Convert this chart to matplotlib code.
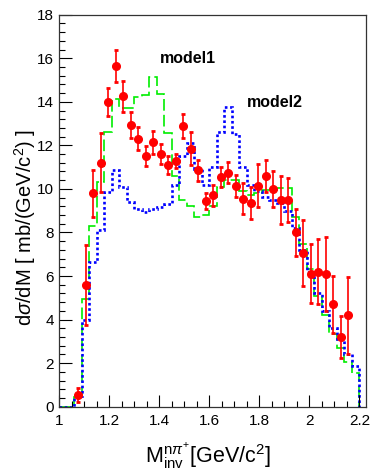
import numpy as np
import matplotlib
matplotlib.use("Agg")
import matplotlib.pyplot as plt

# invariant-mass bins, 0.03 GeV wide from 1.0 to 2.2
bin_edges = np.round(np.arange(1.0, 2.2001, 0.03), 3)

# measured dsigma/dM (red points), one per bin starting at 1.06
data_x = np.round(1.075 + 0.03 * np.arange(37), 3)
data_y = [0.55, 5.6, 9.8, 11.2, 14.0, 15.65, 14.25, 12.95, 12.3, 11.5,
          12.15, 11.6, 11.1, 11.3, 12.9, 11.85, 10.85, 9.45, 9.7, 10.55,
          10.75, 10.15, 9.55, 9.35, 10.15, 10.6, 10.0, 9.5, 9.5, 8.0,
          7.05, 6.1, 6.2, 6.1, 4.7, 3.2, 4.2]
data_err = [0.33, 1.83, 1.07, 1.35, 0.65, 0.73, 0.7, 0.6, 0.52, 0.47,
            0.53, 0.45, 0.4, 0.32, 0.55, 0.76, 0.5, 0.35, 0.5, 0.45,
            0.5, 0.5, 0.7, 0.72, 1.0, 0.75, 0.83, 1.1, 1.0, 1.1,
            1.5, 1.35, 1.5, 1.7, 1.3, 0.95, 1.76]

# model predictions, histogrammed in the same bins
model1 = [0, 0, 0.46, 4.95, 8.3, 10.3, 12.6, 14.15, 13.7, 13.7,
          14.2, 14.3, 15.15, 14.35, 12.55, 10.6, 9.5, 9.2, 8.7, 8.8,
          9.2, 10.1, 10.4, 10.4, 9.9, 9.7, 9.8, 9.95, 9.95, 10.05,
          10.05, 8.72, 7.45, 6.3, 5.1, 4.2, 3.35, 2.7, 2.05, 1.55]
model2 = [0, 0, 0.5, 4.0, 6.65, 8.1, 9.85, 10.85, 10.1, 9.4,
          9.1, 8.95, 9.1, 9.15, 9.3, 10.2, 11.5, 12.1, 10.9, 10.2,
          11.0, 12.6, 13.76, 12.5, 11.0, 10.2, 9.9, 9.65, 9.5, 9.35,
          9.0, 8.2, 7.2, 6.2, 5.2, 4.4, 3.6, 3.1, 2.4, 1.85]

plt.rcParams['font.family'] = ['Liberation Sans', 'DejaVu Sans']
plt.rcParams['mathtext.fontset'] = 'custom'
plt.rcParams['mathtext.rm'] = 'Liberation Sans'
plt.rcParams['mathtext.it'] = 'Liberation Sans:italic'
plt.rcParams['mathtext.bf'] = 'Liberation Sans:bold'

fig = plt.figure(figsize=(3.71, 4.75), dpi=100)
ax = fig.add_axes([0.16, 0.1438, 0.8267, 0.8253])

ax.stairs(model1, bin_edges, baseline=0, color='#00ee00', lw=1.2,
          linestyle=(0, (7, 2.5)))
ax.stairs(model2, bin_edges, baseline=0, color='#0000ff', lw=1.9,
          linestyle=(0, (1, 1)))
ax.errorbar(data_x, data_y, yerr=data_err, fmt='o', color='red', ms=5.5,
            elinewidth=1.2, capsize=1.5, capthick=2, zorder=5)

ax.text(1.403, 15.77, 'model1', fontsize=11.5, fontweight='bold')
ax.text(1.75, 13.76, 'model2', fontsize=11.5, fontweight='bold')

ax.set_xlim(1.0, 2.227)
ax.set_ylim(0, 18)
ax.set_xticks(np.arange(1.0, 2.21, 0.2))
ax.set_xticklabels(['1', '1.2', '1.4', '1.6', '1.8', '2', '2.2'])
ax.set_xticks(np.arange(1.0, 2.227, 0.05), minor=True)
ax.set_yticks(np.arange(0, 18.1, 2))
ax.set_yticks(np.arange(0, 18.01, 0.4), minor=True)
ax.tick_params(which='both', direction='in', top=False, right=False,
               labelsize=11, width=0.8)
ax.tick_params(which='major', length=9)
ax.tick_params(which='minor', length=4.5)
ax.tick_params(axis='x', pad=5)
ax.tick_params(axis='y', pad=4)
for s in ax.spines.values():
    s.set_linewidth(0.9)
    s.set_color('#333333')

fig.text(0.56, 1 - 463 / 475,
         r'M$_{\mathrm{inv}}^{\mathrm{n}\pi^{+}}$[GeV/c$^{2}$]',
         ha='center', va='baseline', fontsize=15.5)
fig.text(25 / 371, 1 - 228 / 475, r'd$\sigma$/dM [ mb/(GeV/c$^{2}$) ]',
         rotation=90, ha='center', va='center', fontsize=14.5)

fig.savefig('out.png', dpi=100)
